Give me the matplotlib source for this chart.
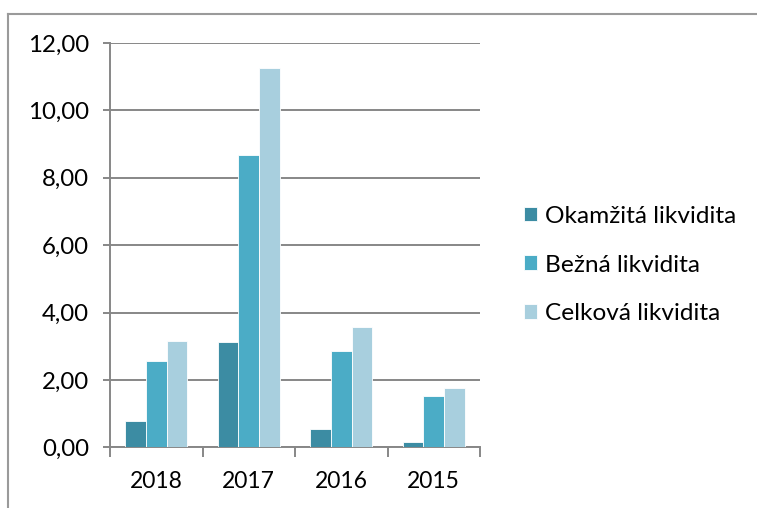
import matplotlib.pyplot as plt
from matplotlib.lines import Line2D
import numpy as np

# data
years = ['2018', '2017', '2016', '2015']
okamzita = [0.78, 3.12, 0.53, 0.15]
bezna = [2.56, 8.68, 2.85, 1.53]
celkova = [3.15, 11.25, 3.58, 1.77]
series_names = ['Okamžitá likvidita', 'Bežná likvidita', 'Celková likvidita']
colors = ['#3C8CA3', '#4BACC6', '#A8CFDE']

plt.rcParams['font.family'] = ['Lato', 'DejaVu Sans']

fig = plt.figure(figsize=(7.57, 5.08), dpi=100)
ax = fig.add_axes([110 / 757, 1 - 447.3 / 508, 370 / 757, 404.3 / 508])

grey = '#878787'
x = np.arange(len(years))
w = 0.222
for i, (vals, name, c) in enumerate(zip([okamzita, bezna, celkova], series_names, colors)):
    ax.bar(x + (i - 1) * w, vals, width=w, color=c, edgecolor='white',
           linewidth=0.6, label=name, zorder=3)

ax.set_xlim(-0.5, 3.5)
ax.set_ylim(0, 12)
ax.set_yticks(np.arange(0, 13, 2))
ax.set_yticklabels([f"{v:.2f}".replace('.', ',') for v in np.arange(0, 13, 2)])
ax.set_xticks(x)
ax.set_xticklabels(years)
ax.set_xticks(np.arange(-0.5, 4, 1), minor=True)

ax.grid(axis='y', color=grey, linewidth=1.4, zorder=0)
for s in ['top', 'right']:
    ax.spines[s].set_visible(False)
for s in ['left', 'bottom']:
    ax.spines[s].set_color(grey)
    ax.spines[s].set_linewidth(1.4)

ax.tick_params(axis='y', length=5, width=1.4, color=grey, pad=10, labelsize=17.3)
ax.tick_params(axis='x', which='major', length=0, pad=17, labelsize=16.5)
ax.tick_params(axis='x', which='minor', length=7.5, width=1.4, color=grey)

ax.legend(loc='center left', bbox_to_anchor=(524 / 757, 1 - 265 / 508),
          bbox_transform=fig.transFigure, frameon=False, fontsize=17.6,
          handlelength=0.55, handleheight=0.55, handletextpad=0.3,
          labelspacing=1.14, borderpad=0, borderaxespad=0)

# outer chart frame (partly cut off)
fig.add_artist(Line2D([8 / 757, 8 / 757], [0, 1 - 14 / 508], color='#9A9A9A',
                      linewidth=1.5, transform=fig.transFigure))
fig.add_artist(Line2D([8 / 757, 1], [1 - 14 / 508, 1 - 14 / 508], color='#9A9A9A',
                      linewidth=1.5, transform=fig.transFigure))

fig.savefig('out.png', dpi=100)
